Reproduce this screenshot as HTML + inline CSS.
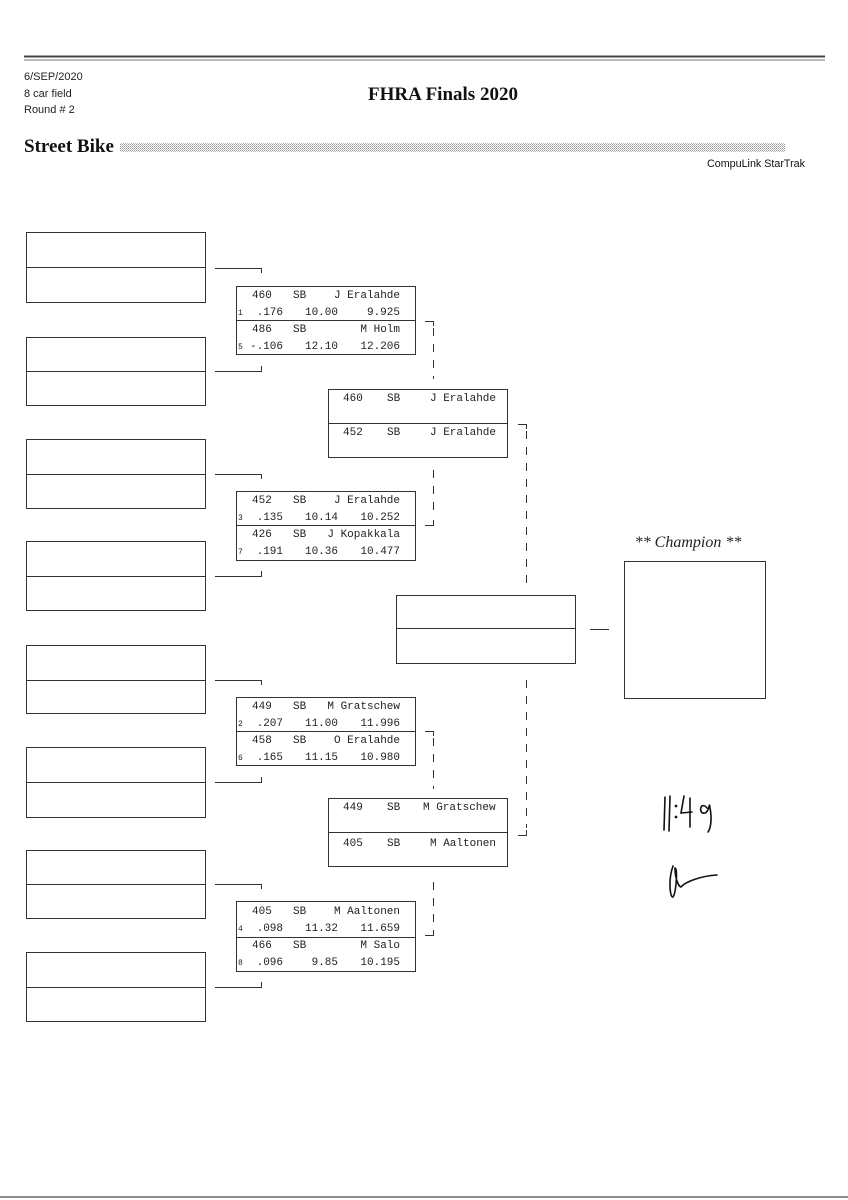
<!DOCTYPE html>
<html><head><meta charset="utf-8"><style>
html,body{margin:0;padding:0;background:#fff;}
svg{display:block;}
.m{font-family:"Liberation Mono",monospace;font-size:11px;fill:#222;}
.s{font-family:"Liberation Mono",monospace;font-size:8px;fill:#222;}
.h{font-family:"Liberation Sans",sans-serif;font-size:11px;fill:#222;}
</style></head><body>
<svg width="848" height="1200" viewBox="0 0 848 1200" xmlns="http://www.w3.org/2000/svg">
<defs><pattern id="dots" width="2" height="2" patternUnits="userSpaceOnUse"><rect width="1" height="1" fill="#999"/><rect x="1" y="1" width="1" height="1" fill="#bbb"/></pattern></defs>
<line x1="24" y1="56.5" x2="825" y2="56.5" stroke="#444" stroke-width="2"/>
<line x1="24" y1="60" x2="825" y2="60" stroke="#777" stroke-width="1"/>
<line x1="0" y1="1197" x2="848" y2="1197" stroke="#666" stroke-width="1.5"/>
<text class="h" x="24" y="80">6/SEP/2020</text>
<text class="h" x="24" y="97">8 car field</text>
<text class="h" x="24" y="113">Round # 2</text>
<text x="443" y="100" text-anchor="middle" font-family="Liberation Serif,serif" font-weight="bold" font-size="19" fill="#111">FHRA Finals 2020</text>
<text x="24" y="152" font-family="Liberation Serif,serif" font-weight="bold" font-size="19" fill="#111">Street Bike</text>
<rect x="120" y="143" width="665" height="9" fill="url(#dots)"/>
<text x="805" y="167" text-anchor="end" font-family="Liberation Sans,sans-serif" font-size="11" fill="#111" textLength="98" lengthAdjust="spacingAndGlyphs">CompuLink StarTrak</text>

<g fill="none" stroke="#333" stroke-width="1">
<rect x="26.5" y="232.5" width="179" height="70"/><line x1="26" y1="267.5" x2="205" y2="267.5"/>
<rect x="26.5" y="337.5" width="179" height="68"/><line x1="26" y1="371.5" x2="205" y2="371.5"/>
<rect x="26.5" y="439.5" width="179" height="69"/><line x1="26" y1="474.5" x2="205" y2="474.5"/>
<rect x="26.5" y="541.5" width="179" height="69"/><line x1="26" y1="576.5" x2="205" y2="576.5"/>
<rect x="26.5" y="645.5" width="179" height="68"/><line x1="26" y1="680.5" x2="205" y2="680.5"/>
<rect x="26.5" y="747.5" width="179" height="70"/><line x1="26" y1="782.5" x2="205" y2="782.5"/>
<rect x="26.5" y="850.5" width="179" height="68"/><line x1="26" y1="884.5" x2="205" y2="884.5"/>
<rect x="26.5" y="952.5" width="179" height="69"/><line x1="26" y1="987.5" x2="205" y2="987.5"/>
<path d="M215 268.5H261.5V273"/><path d="M215 371.5H261.5V366"/>
<path d="M215 474.5H261.5V479"/><path d="M215 576.5H261.5V571"/>
<path d="M215 680.5H261.5V685"/><path d="M215 782.5H261.5V777"/>
<path d="M215 884.5H261.5V889"/><path d="M215 987.5H261.5V982"/>
<rect x="236.5" y="286.5" width="179" height="68"/><line x1="236" y1="320.5" x2="415" y2="320.5"/>
<rect x="236.5" y="491.5" width="179" height="69"/><line x1="236" y1="525.5" x2="415" y2="525.5"/>
<rect x="236.5" y="697.5" width="179" height="68"/><line x1="236" y1="731.5" x2="415" y2="731.5"/>
<rect x="236.5" y="901.5" width="179" height="70"/><line x1="236" y1="937.5" x2="415" y2="937.5"/>
<rect x="328.5" y="389.5" width="179" height="68"/><line x1="328" y1="423.5" x2="507" y2="423.5"/>
<rect x="328.5" y="798.5" width="179" height="68"/><line x1="328" y1="832.5" x2="507" y2="832.5"/>
<rect x="396.5" y="595.5" width="179" height="68"/><line x1="396" y1="628.5" x2="575" y2="628.5"/>
<line x1="590" y1="629.5" x2="609" y2="629.5"/>
<rect x="624.5" y="561.5" width="141" height="137"/>
<path d="M425 321.5H433.5V326"/><line x1="433.5" y1="328" x2="433.5" y2="379" stroke-dasharray="8,8"/>
<path d="M425 525.5H433.5V520"/><line x1="433.5" y1="470" x2="433.5" y2="518" stroke-dasharray="8,8"/>
<path d="M425 731.5H433.5V736"/><line x1="433.5" y1="738" x2="433.5" y2="789" stroke-dasharray="8,8"/>
<path d="M425 935.5H433.5V930"/><line x1="433.5" y1="882" x2="433.5" y2="928" stroke-dasharray="8,8"/>
<path d="M518 424.5H526.5V429"/><line x1="526.5" y1="431" x2="526.5" y2="585" stroke-dasharray="8,8"/>
<path d="M518 835.5H526.5V830"/><line x1="526.5" y1="680" x2="526.5" y2="828" stroke-dasharray="8,8"/>
<g stroke="#111" stroke-width="1.6" stroke-linecap="round">
<path d="M665 797 L664 830"/><path d="M670 796 L669 831"/>
<circle cx="676" cy="806" r="0.6"/><circle cx="676" cy="817" r="0.6"/>
<path d="M684 796 L681 813 L692 812"/><path d="M690 798 L690 827"/>
<path d="M707 808 C700 800 698 815 705 813 C710 811 709 800 710 808 C712 818 711 828 708 832"/>
<path d="M673 866 C668 880 670 898 673 897 C676 893 678 868 675 868 C675 880 680 890 682 886 C686 882 700 876 717 875"/>
</g>
</g>

<g class="m">
<text x="252" y="298">460</text><text x="293" y="298">SB</text><text x="400" y="298" text-anchor="end">J Eralahde</text>
<text class="s" x="238" y="315">1</text><text x="283" y="315" text-anchor="end">.176</text><text x="338" y="315" text-anchor="end">10.00</text><text x="400" y="315" text-anchor="end">9.925</text>
<text x="252" y="332">486</text><text x="293" y="332">SB</text><text x="400" y="332" text-anchor="end">M Holm</text>
<text class="s" x="238" y="349">5</text><text x="283" y="349" text-anchor="end">-.106</text><text x="338" y="349" text-anchor="end">12.10</text><text x="400" y="349" text-anchor="end">12.206</text>

<text x="252" y="503">452</text><text x="293" y="503">SB</text><text x="400" y="503" text-anchor="end">J Eralahde</text>
<text class="s" x="238" y="520">3</text><text x="283" y="520" text-anchor="end">.135</text><text x="338" y="520" text-anchor="end">10.14</text><text x="400" y="520" text-anchor="end">10.252</text>
<text x="252" y="537">426</text><text x="293" y="537">SB</text><text x="400" y="537" text-anchor="end">J Kopakkala</text>
<text class="s" x="238" y="554">7</text><text x="283" y="554" text-anchor="end">.191</text><text x="338" y="554" text-anchor="end">10.36</text><text x="400" y="554" text-anchor="end">10.477</text>

<text x="252" y="709">449</text><text x="293" y="709">SB</text><text x="400" y="709" text-anchor="end">M Gratschew</text>
<text class="s" x="238" y="726">2</text><text x="283" y="726" text-anchor="end">.207</text><text x="338" y="726" text-anchor="end">11.00</text><text x="400" y="726" text-anchor="end">11.996</text>
<text x="252" y="743">458</text><text x="293" y="743">SB</text><text x="400" y="743" text-anchor="end">O Eralahde</text>
<text class="s" x="238" y="760">6</text><text x="283" y="760" text-anchor="end">.165</text><text x="338" y="760" text-anchor="end">11.15</text><text x="400" y="760" text-anchor="end">10.980</text>

<text x="252" y="914">405</text><text x="293" y="914">SB</text><text x="400" y="914" text-anchor="end">M Aaltonen</text>
<text class="s" x="238" y="931">4</text><text x="283" y="931" text-anchor="end">.098</text><text x="338" y="931" text-anchor="end">11.32</text><text x="400" y="931" text-anchor="end">11.659</text>
<text x="252" y="948">466</text><text x="293" y="948">SB</text><text x="400" y="948" text-anchor="end">M Salo</text>
<text class="s" x="238" y="965">8</text><text x="283" y="965" text-anchor="end">.096</text><text x="338" y="965" text-anchor="end">9.85</text><text x="400" y="965" text-anchor="end">10.195</text>

<text x="343" y="401">460</text><text x="387" y="401">SB</text><text x="430" y="401">J Eralahde</text>
<text x="343" y="435">452</text><text x="387" y="435">SB</text><text x="430" y="435">J Eralahde</text>
<text x="343" y="810">449</text><text x="387" y="810">SB</text><text x="423" y="810">M Gratschew</text>
<text x="343" y="846">405</text><text x="387" y="846">SB</text><text x="430" y="846">M Aaltonen</text>
</g>
<text x="688" y="547" text-anchor="middle" font-family="Liberation Serif,serif" font-style="italic" font-size="16" fill="#222">** Champion **</text>
</svg>
</body></html>
